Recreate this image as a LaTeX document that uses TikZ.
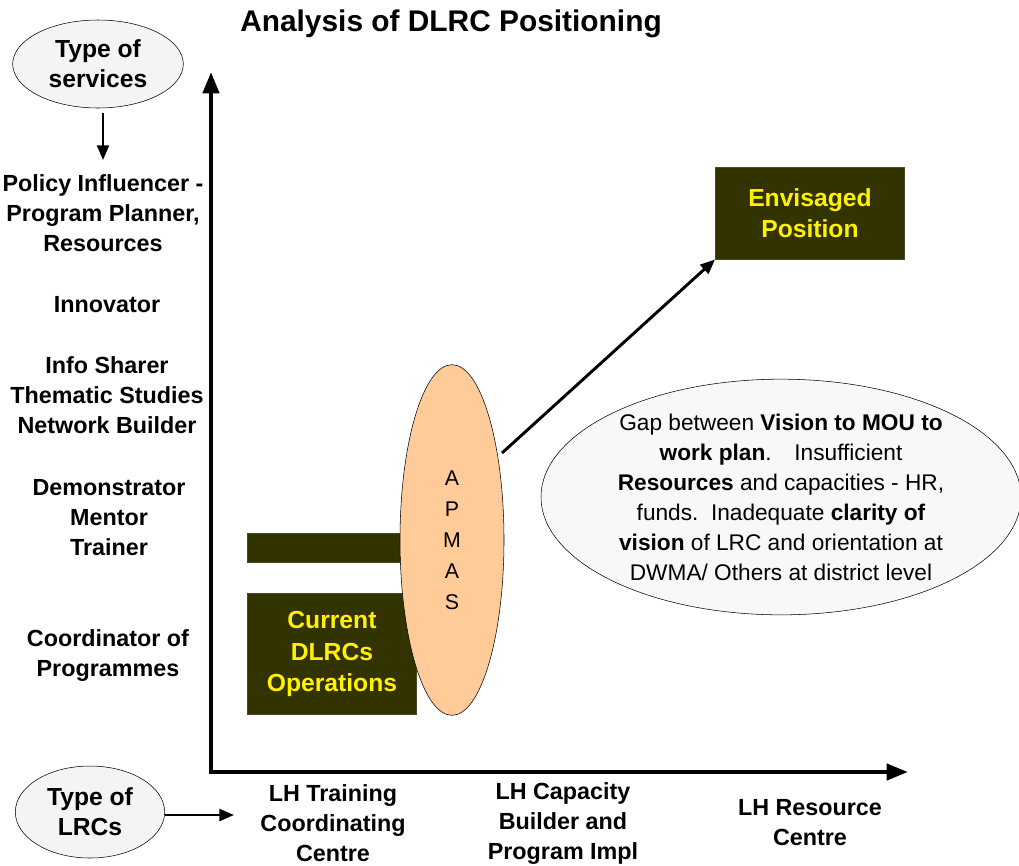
\documentclass[tikz,border=0pt]{standalone}
\usepackage{fontspec}
\setmainfont{Liberation Sans}
\usetikzlibrary{arrows.meta,shapes.geometric}
\definecolor{olive}{HTML}{333300}
\definecolor{peach}{HTML}{FFCC99}
\definecolor{bubble}{HTML}{F4F4F4}
\begin{document}
\begin{tikzpicture}[x=0.75pt,y=-0.75pt,
  lab/.style={font=\bfseries\fontsize{17.5}{22.5}\selectfont,align=center,inner sep=0pt},
  tag/.style={ellipse,draw,thin,fill=bubble,inner sep=0pt,
     font=\bfseries\fontsize{18.5}{22.5}\selectfont,align=center},
  darkbox/.style={draw=olive!70!gray,fill=olive,text=yellow,inner sep=0pt,
     font=\bfseries\fontsize{18.5}{23.5}\selectfont,align=center},
  axis/.style={line width=3.2pt,-{Triangle[length=16pt,width=12pt]}},
  link/.style={line width=2.2pt,-{Triangle[length=11pt,width=9pt]}}]
\useasboundingbox (0,0) rectangle (1019,865);

% title
\node[lab,font=\bfseries\fontsize{22.4}{26}\selectfont] (title) at (451,24) {Analysis of DLRC Positioning};

% axes
\coordinate (origin) at (211,772);
\coordinate (ytop) at (211,72);
\coordinate (xend) at (908,772);
\draw[axis] (origin) -- (ytop);
\draw[axis] ([xshift=-1.2pt]origin) -- (xend);

% vertical axis heading and labels
\node[tag,minimum width=128pt,minimum height=66pt] (svc) at (98,64) {Type of\\services};
\coordinate (svcarrow) at (103,160);
\draw[link,line width=1.6pt] (103,113) -- (svcarrow);

\node[lab] (policy) at (103,213) {Policy Influencer -\\Program Planner,\\Resources};
\node[lab] (innov) at (107,305) {Innovator};
\node[lab] (info) at (107,395) {Info Sharer\\Thematic Studies\\Network Builder};
\node[lab] (demo) at (109,518) {Demonstrator\\Mentor\\Trainer};
\node[lab] (coord) at (108,655) {Coordinator of\\Programmes};

% horizontal axis heading and labels
\node[tag,minimum width=112pt,minimum height=69pt] (lrc) at (90,812) {Type of\\LRCs};
\coordinate (lrcarrow) at (234,815);
\draw[link,line width=1.8pt] (lrc.east) ++(0,3) -- (lrcarrow);

\node[lab] (train) at (333,823) {LH Training\\Coordinating\\Centre};
\node[lab] (cap) at (563,823) {LH Capacity\\Builder and\\Program Impl};
\node[lab] (res) at (810,823) {LH Resource\\Centre};

% current position
\node[darkbox,minimum width=132pt,minimum height=22pt,anchor=north west] (bar) at (247,533) {};
\node[darkbox,minimum width=127pt,minimum height=91pt,anchor=north west] (current) at (247,593) {Current\\DLRCs\\Operations};

% APMAS
\node[ellipse,draw,thin,fill=peach,minimum width=78pt,minimum height=263pt,inner sep=0pt,
      font=\fontsize{16}{23.2}\selectfont,align=center] (apmas) at (452,540)
      {A\\P\\M\\A\\S};

% envisaged position
\node[darkbox,minimum width=142pt,minimum height=69pt,anchor=north west] (env) at (715,167) {Envisaged\\Position};
\draw[link] (502,453) -- (env.south west);

% gap bubble
\node[ellipse,draw,thin,fill=bubble!60!white,minimum width=360pt,minimum height=167pt,inner sep=0pt,
      font=\fontsize{17}{22.5}\selectfont,align=center] (gap) at (781,497)
      {Gap between \textbf{Vision to MOU to}\\\textbf{work plan}.\quad Insufficient\\
       \textbf{Resources} and capacities - HR,\\funds.\ \ Inadequate \textbf{clarity of}\\
       \textbf{vision} of LRC and orientation at\\DWMA/ Others at district level};
\end{tikzpicture}
\end{document}
